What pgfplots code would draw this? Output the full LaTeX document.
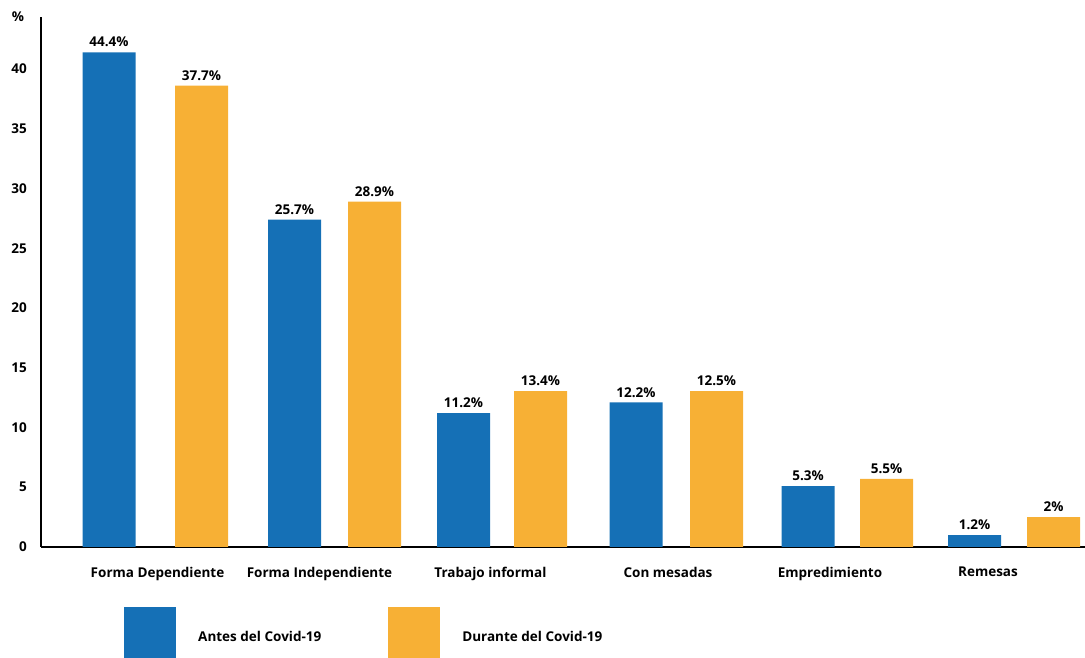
\documentclass[border=0pt]{standalone}
\usepackage{pgfplots}
\pgfplotsset{compat=1.18}
\usepackage{fontspec}
\setmainfont{Open Sans}
\definecolor{cblue}{HTML}{1570B6}
\definecolor{corange}{HTML}{F7B035}
\begin{document}
\begin{tikzpicture}[font=\bfseries\fontsize{13.5}{16}\selectfont]
\path[use as bounding box] (0,0) rectangle (1085pt,658pt);
\begin{axis}[
  at={(41pt,111pt)}, anchor=south west,
  x=1pt, y=11.95pt,
  xmin=41, xmax=1085, ymin=0, ymax=44.35,
  axis x line=bottom, axis y line=left,
  axis line style={-, line width=1.6pt, black},
  ytick={0,5,...,40},
  xtick={157.5,319.5,490.5,668,830,988},
  xticklabels={Forma Dependiente, Forma Independiente, Trabajo informal, Con mesadas, Empredimiento, Remesas},
  major tick length=0pt,
  /pgf/number format/assume math mode=true,
  yticklabel style={inner sep=0pt, anchor=east, xshift=-14pt},
  xticklabel style={inner sep=0pt, anchor=north, yshift=-20pt},
  ylabel={\%},
  ylabel style={rotate=-90, at={(axis description cs:-0.022,1)}, anchor=center},
  ybar, bar width=53, bar shift=0pt,
  nodes near coords, point meta=explicit symbolic,
  nodes near coords style={inner sep=0pt, anchor=south, yshift=5pt, text=black},
  clip=false,
  legend columns=2,
  legend image code/.code={\fill[#1] (0pt,-19pt) rectangle (52pt,34pt);},
  legend style={at={(axis cs:124,0)}, anchor=north west, yshift=-60pt,
    draw=none, fill=none, inner sep=0pt,
    nodes={inner sep=0pt, anchor=base west},
    /tikz/every odd column/.append style={column sep=22pt},
    /tikz/every even column/.append style={column sep=67pt}},
]
\addplot[fill=cblue, draw=none] coordinates {
  (109,41.4) [44.4\%]
  (294.5,27.4) [25.7\%]
  (463.5,11.2) [11.2\%]
  (636,12.1) [12.2\%]
  (808,5.1) [5.3\%]
  (974.5,1.0) [1.2\%]
};
\addplot[fill=corange, draw=none] coordinates {
  (201.5,38.6) [37.7\%]
  (374.5,28.9) [28.9\%]
  (540.5,13.05) [13.4\%]
  (716.5,13.05) [12.5\%]
  (886.5,5.7) [5.5\%]
  (1053.5,2.5) [2\%]
};
\legend{Antes del Covid-19, Durante del Covid-19}
\end{axis}
\end{tikzpicture}
\end{document}
